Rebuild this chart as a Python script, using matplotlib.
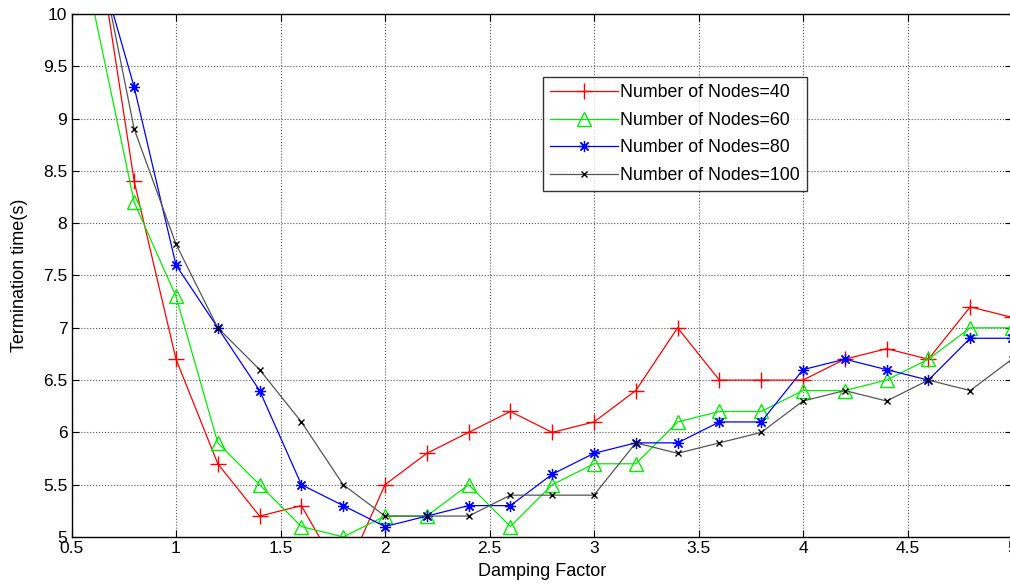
import matplotlib
matplotlib.use("Agg")
import matplotlib.pyplot as plt

plt.rcParams['font.family'] = ['Liberation Sans', 'DejaVu Sans']

damping = [0.6, 0.8, 1.0, 1.2, 1.4, 1.6, 1.8, 2.0, 2.2, 2.4, 2.6, 2.8, 3.0,
           3.2, 3.4, 3.6, 3.8, 4.0, 4.2, 4.4, 4.6, 4.8, 5.0]

nodes_40 = [11.0, 8.4, 6.7, 5.7, 5.2, 5.3, 4.6, 5.5, 5.8, 6.0, 6.2, 6.0, 6.1,
            6.4, 7.0, 6.5, 6.5, 6.5, 6.7, 6.8, 6.7, 7.2, 7.1]
nodes_60 = [10.1, 8.2, 7.3, 5.9, 5.5, 5.1, 5.0, 5.2, 5.2, 5.5, 5.1, 5.5, 5.7,
            5.7, 6.1, 6.2, 6.2, 6.4, 6.4, 6.5, 6.7, 7.0, 7.0]
nodes_80 = [10.7, 9.3, 7.6, 7.0, 6.4, 5.5, 5.3, 5.1, 5.2, 5.3, 5.3, 5.6, 5.8,
            5.9, 5.9, 6.1, 6.1, 6.6, 6.7, 6.6, 6.5, 6.9, 6.9]
nodes_100 = [10.9, 8.9, 7.8, 7.0, 6.6, 6.1, 5.5, 5.2, 5.2, 5.2, 5.4, 5.4, 5.4,
             5.9, 5.8, 5.9, 6.0, 6.3, 6.4, 6.3, 6.5, 6.4, 6.7]

labels = ['Number of Nodes=40', 'Number of Nodes=60',
          'Number of Nodes=80', 'Number of Nodes=100']

fig = plt.figure(figsize=(10.10, 5.87), dpi=100)
ax = fig.add_axes([71.5 / 1010, 50 / 587, (1012 - 71.5) / 1010, (537 - 14) / 587])

lw = 0.9
ax.plot(damping, nodes_40, color='#ff0000', lw=lw, marker='+', ms=12, mew=1.0,
        label=labels[0])
ax.plot(damping, nodes_60, color='#00ee00', lw=lw, marker='^', ms=10, mew=1.0,
        mfc='none', label=labels[1])
ax.plot(damping, nodes_80, color='#0000ff', lw=lw, marker=(8, 2, 0), ms=8,
        mew=0.9, label=labels[2])
ax.plot(damping, nodes_100, color='#555555', lw=lw, marker='x', ms=5, mew=1.0,
        mec='black', label=labels[3])

ax.set_xlim(0.5, 5)
ax.set_ylim(5, 10)
ax.set_xticks([0.5, 1, 1.5, 2, 2.5, 3, 3.5, 4, 4.5, 5])
ax.set_xticklabels(['0.5', '1', '1.5', '2', '2.5', '3', '3.5', '4', '4.5', '5'])
ax.set_yticks([5, 5.5, 6, 6.5, 7, 7.5, 8, 8.5, 9, 9.5, 10])
ax.set_yticklabels(['5', '5.5', '6', '6.5', '7', '7.5', '8', '8.5', '9', '9.5', '10'])
ax.grid(True, color='#555555', linestyle=':', linewidth=0.8)
ax.tick_params(direction='in', length=5, labelsize=12.5, top=True, right=True,
               pad=3)
for s in ax.spines.values():
    s.set_linewidth(1.0)

ax.set_xlabel('Damping Factor', fontsize=13, labelpad=5)
ax.set_ylabel('Termination time(s)', fontsize=13, labelpad=11)

leg = ax.legend(loc='upper left', bbox_to_anchor=((543 - 71.5) / 940.5, (537 - 77) / 523),
                fontsize=12.8, frameon=True, fancybox=False, edgecolor='black',
                handlelength=3.8, handletextpad=0.15, borderpad=0.4,
                labelspacing=0.6, borderaxespad=0)
leg.get_frame().set_linewidth(1.0)

fig.savefig('out.png', dpi=100)
